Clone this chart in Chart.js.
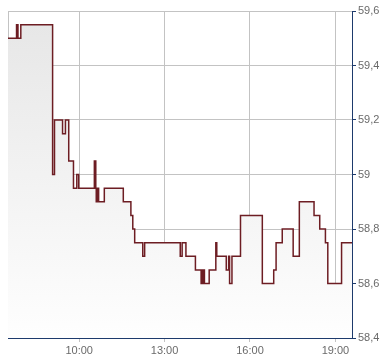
<!DOCTYPE html>
<html>
<head>
<meta charset="utf-8">
<script src="https://cdn.jsdelivr.net/npm/chart.js@4"></script>
<style>
  html, body { margin: 0; padding: 0; background: #ffffff; }
  #wrap { width: 390px; height: 364px; }
</style>
</head>
<body>
<div id="wrap"><canvas id="c" width="390" height="364"></canvas></div>
<script>
// Time of each price change (HH:MM) and the price from that time on
const times = ["07:30","07:48","07:51","07:57","09:04","09:08","09:25","09:31","09:38","09:48",
  "09:55","09:59","10:32","10:35","10:36","10:38","10:41","10:53","11:33","11:49",
  "11:53","11:57","12:14","12:18","13:33","13:37","13:45","14:05","14:17","14:19",
  "14:20","14:23","14:24","14:34","14:48","14:50","15:10","15:15","15:17","15:22",
  "15:40","16:26","16:50","16:55","17:08","17:31","17:44","18:15","18:27","18:39",
  "18:44","19:13","19:35"];
const prices = [59.50,59.55,59.50,59.55,59.00,59.20,59.15,59.20,59.05,58.95,
  59.00,58.95,59.05,58.95,58.90,58.95,58.90,58.95,58.90,58.85,
  58.80,58.75,58.70,58.75,58.70,58.75,58.70,58.65,58.60,58.65,
  58.60,58.65,58.60,58.65,58.75,58.70,58.65,58.70,58.60,58.70,
  58.85,58.60,58.65,58.75,58.80,58.70,58.90,58.85,58.80,58.75,
  58.60,58.75,58.75];
const xTickTimes = ["07:30","10:00","13:00","16:00","19:00"];
const xStart = "07:30";
const xEnd = "19:35";
const yMin = 58.4, yMax = 59.6, yStep = 0.2;

const toHours = s => { const [h, m] = s.split(":").map(Number); return h + m / 60; };
const fmtTime = v => { const h = Math.floor(v + 1e-9); const m = Math.round((v - h) * 60); return h + ":" + String(m).padStart(2, "0"); };

const points = times.map((t, i) => ({ x: toHours(t), y: prices[i] }));
const xTicks = xTickTimes.map(toHours);
const startH = toHours(xStart);

const gridColor = "#c3c3c3";
const navy = "#1d3a6c";
const labelColor = "#6a6a6a";
const font = { family: "'Liberation Sans', Arial, sans-serif", size: 11 };

new Chart(document.getElementById("c"), {
  type: "line",
  data: {
    datasets: [{
      data: points,
      stepped: true,
      borderColor: "#6d1d23",
      borderWidth: 1.5,
      pointRadius: 0,
      fill: "start",
      backgroundColor: (ctx) => {
        const area = ctx.chart.chartArea;
        if (!area) return "#eeeeee";
        const g = ctx.chart.ctx.createLinearGradient(0, area.top, 0, area.bottom);
        g.addColorStop(0, "#e6e6e6");
        g.addColorStop(1, "#fefefe");
        return g;
      }
    }]
  },
  options: {
    responsive: false,
    animation: false,
    layout: { padding: { left: 8, top: 11, right: 0, bottom: 0 } },
    plugins: { legend: { display: false }, tooltip: { enabled: false } },
    scales: {
      x: {
        type: "linear",
        min: startH,
        max: toHours(xEnd),
        afterBuildTicks: (axis) => { axis.ticks = xTicks.map(v => ({ value: v })); },
        afterFit: (scale) => { scale.height = 26; },
        grid: {
          color: gridColor,
          lineWidth: 1,
          drawTicks: true,
          tickLength: 4,
          tickColor: (ctx) => (ctx.tick && Math.abs(ctx.tick.value - startH) < 1e-6) ? "rgba(0,0,0,0)" : gridColor
        },
        border: { display: true, color: navy, width: 1 },
        ticks: {
          autoSkip: false,
          maxRotation: 0,
          padding: 2,
          color: labelColor,
          font: font,
          callback: (v) => Math.abs(v - startH) < 1e-6 ? "" : fmtTime(v)
        }
      },
      y: {
        position: "right",
        min: yMin,
        max: yMax,
        afterFit: (scale) => { scale.width = 38; },
        grid: {
          color: gridColor,
          lineWidth: 1,
          drawTicks: true,
          tickLength: 4,
          tickColor: navy
        },
        border: { display: true, color: navy, width: 1 },
        ticks: {
          stepSize: yStep,
          padding: 2,
          color: labelColor,
          font: font,
          callback: (v) => String(parseFloat(Number(v).toFixed(1))).replace(".", ",")
        }
      }
    }
  }
});
</script>
</body>
</html>
